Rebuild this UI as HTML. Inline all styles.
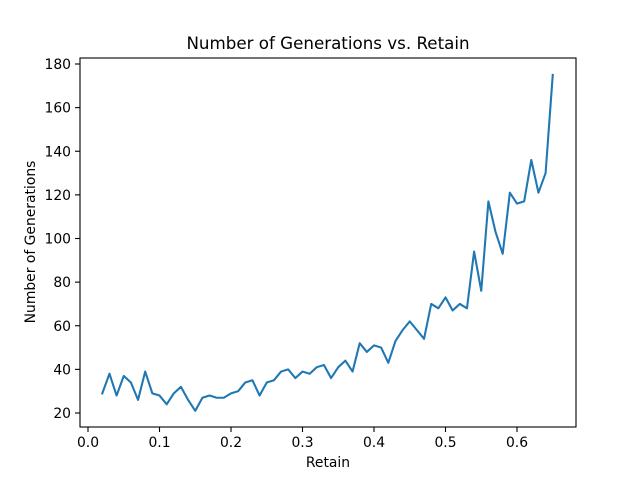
<!DOCTYPE html>
<html><head><meta charset="utf-8"><style>
body{margin:0;background:#fff}
svg text{font-family:"DejaVu Sans","Liberation Sans",sans-serif;fill:#000}
</style></head><body>
<svg id="c" width="640" height="480">
<rect width="640" height="480" fill="#fff"/>
<text x="328" y="49" font-size="16.7" text-anchor="middle">Number of Generations vs. Retain</text>
<text x="328" y="467" font-size="13.9" text-anchor="middle">Retain</text>
<text transform="translate(35,242) rotate(-90)" font-size="13.9" text-anchor="middle">Number of Generations</text>
<g id="ticks"></g>
<path id="line" fill="none" stroke="#1f77b4" stroke-width="2.08" stroke-linejoin="round" stroke-linecap="square"/>
<rect x="80" y="58" width="496" height="369" fill="none" stroke="#000" stroke-width="1.1"/>
</svg>
<script>
const retain=[];for(let i=2;i<=65;i++)retain.push(i/100);
const generations=[29,38,28,37,34,26,39,29,28,24,29,32,26,21,27,28,27,27,29,30,34,35,28,34,35,39,40,36,39,38,41,42,36,41,44,39,52,48,51,50,43,53,58,62,58,54,70,68,73,67,70,68,94,76,117,103,93,121,116,117,136,121,130,175];
const xTicks=[0.0,0.1,0.2,0.3,0.4,0.5,0.6];
const xTickLabels=["0.0","0.1","0.2","0.3","0.4","0.5","0.6"];
const yTicks=[20,40,60,80,100,120,140,160,180];
const sx=v=>88+v*715;
const sy=v=>413-(v-20)*349/160;
const ns="http://www.w3.org/2000/svg";
const g=document.getElementById('ticks');
xTicks.forEach((t,i)=>{
 const l=document.createElementNS(ns,'line');
 l.setAttribute('x1',sx(t));l.setAttribute('x2',sx(t));l.setAttribute('y1',427);l.setAttribute('y2',432);l.setAttribute('stroke','#000');l.setAttribute('stroke-width','1.1');
 
 
 g.appendChild(l);
 const tx=document.createElementNS(ns,'text');
 tx.setAttribute('x',sx(t));tx.setAttribute('y',447);tx.setAttribute('font-size','13.9');tx.setAttribute('text-anchor','middle');tx.textContent=xTickLabels[i];
 
 
 g.appendChild(tx);
});
yTicks.forEach(t=>{
 const l=document.createElementNS(ns,'line');
 l.setAttribute('x1',75);l.setAttribute('x2',80);l.setAttribute('y1',sy(t));l.setAttribute('y2',sy(t));l.setAttribute('stroke','#000');l.setAttribute('stroke-width','1.1');
 
 
 g.appendChild(l);
 const tx=document.createElementNS(ns,'text');
 tx.setAttribute('x',71);tx.setAttribute('y',sy(t)+5);tx.setAttribute('font-size','13.9');tx.setAttribute('text-anchor','end');tx.textContent=t;
 
 
 g.appendChild(tx);
});
document.getElementById('line').setAttribute('d',retain.map((x,i)=>(i?'L':'M')+sx(x).toFixed(2)+','+sy(generations[i]).toFixed(2)).join(''));
</script>
</body></html>
